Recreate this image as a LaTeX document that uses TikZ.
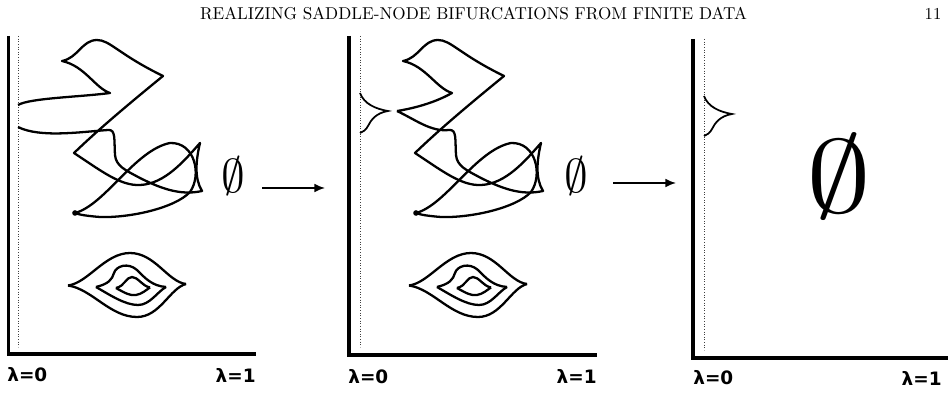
\documentclass[tikz,border=0pt]{standalone}
\usepackage{fontspec}
\newfontfamily\lamfont{DejaVu Sans}
\usetikzlibrary{arrows.meta}
\newcommand\sndmid{.. controls (95,88) and (85,66) .. (62,61) .. controls (78,58) and (82,40) .. (97,40) .. controls (110,40) and (118,54) .. (163,76) .. controls (130,103) and (100,128) .. (74,153) .. controls (100,170) and (120,186) .. (140,185) .. controls (165,184) and (185,160) .. (200,143) .. controls (196,160) and (194,178) .. (202,191) .. controls (180,196) and (160,188) .. (140,178) .. controls (125,170) and (116,166) .. (115,155) .. controls (114,140) and (116,129) .. (108,130)}
\tikzset{
  axisline/.style={line width=2pt},
  dotline/.style={line width=0.5pt, densely dotted, black!75},
  crv/.style={line width=1.3pt, line join=round},
  lamlabel/.style={font=\lamfont\bfseries\fontsize{10.5}{12}\selectfont, inner sep=0pt},
  arr/.style={line width=1pt, -{Latex[length=6pt,width=5pt]}},
  eyeset/.pic={
    \draw[crv] (68,285.5) .. controls (88,283) and (105,253) .. (130,253) .. controls (155,253) and (168,282) .. (186,284);
    \draw[crv] (68,285.5) .. controls (92,289) and (110,317) .. (137,317) .. controls (160,317) and (170,288) .. (186,284);
    \draw[crv] (96,287) .. controls (108,284) and (112,280) .. (114,273) .. controls (116,266) and (128,262) .. (137,270) .. controls (145,278) and (152,286) .. (166,287);
    \draw[crv] (96,287) .. controls (110,295) and (125,305) .. (138,305) .. controls (150,305) and (157,292) .. (166,287);
    \draw[crv] (116,288) .. controls (125,286) and (126,277) .. (132,277) .. controls (138,277) and (142,286) .. (150,287.5);
    \draw[crv] (116,288) .. controls (125,293) and (130,296) .. (136,295) .. controls (142,294) and (146,290) .. (150,287.5);
  },
  lensloop/.pic={
    \draw[crv] (75,213) .. controls (105,205) and (135,150) .. (170,143) .. controls (195,142) and (202,175) .. (190,192) .. controls (175,208) and (130,218) .. (100,217) .. controls (88,216) and (80,215) .. (75,213);
    \fill (75,213) circle[radius=1.6pt];
  },
  smallcusp/.pic={
    \draw[line width=1pt] (19,93) .. controls (23,104) and (35,109) .. (47,111) .. controls (35,113) and (30,120) .. (27,126) .. controls (25,130) and (22,132) .. (19,133);
  }
}
\begin{document}
\begin{tikzpicture}[x=0.02cm, y=-0.02cm]
\fill[white] (0,0) rectangle (948,412);
\useasboundingbox (0,0) rectangle (948,412);

% header
\node[inner sep=0pt] (hdr) at (473.5,13.5) {\resizebox{10.94cm}{!}{REALIZING SADDLE-NODE BIFURCATIONS FROM FINITE DATA}};
\node[inner sep=0pt, font=\fontsize{9.5}{11}\selectfont] (pg) at (933,13.5) {11};

% panel 1
\begin{scope}
  \draw[axisline] (8.5,36) -- (8.5,354) -- (256,354);
  \draw[dotline] (18,36) -- (18,347);
  \node[lamlabel, anchor=west] (p1l0) at (7,375) {λ=0};
  \node[lamlabel, anchor=east] (p1l1) at (256,375) {λ=1};
  \draw[crv] (18,105) .. controls (30,98) and (80,97) .. (110,93) \sndmid .. controls (80,132) and (40,138) .. (18,127);
  \pic {lensloop};
  \pic {eyeset};
\end{scope}
\node[inner sep=0pt] (e1) at (233.5,176) {\scalebox{2.7}{$\emptyset$}};

% panel 2
\begin{scope}[shift={(341,0)}]
  \draw[axisline] (8,36) -- (8,355) -- (256,355);
  \draw[dotline] (19,36) -- (19,347);
  \node[lamlabel, anchor=west] (p2l0) at (7,377) {λ=0};
  \node[lamlabel, anchor=east] (p2l1) at (256,376) {λ=1};
  \pic {smallcusp};
  \draw[crv] (56,111) .. controls (75,108) and (95,102) .. (111,93) \sndmid .. controls (90,132) and (75,120) .. (56,111);
  \pic {lensloop};
  \pic {eyeset};
\end{scope}
\node[inner sep=0pt] (e2) at (576,176) {\scalebox{2.7}{$\emptyset$}};

% panel 3
\begin{scope}[shift={(685,3)}]
  \draw[axisline] (8,36) -- (8,355) -- (263,355);
  \draw[dotline] (19,36) -- (19,347);
  \node[lamlabel, anchor=west] (p3l0) at (8,375) {λ=0};
  \node[lamlabel, anchor=east] (p3l1) at (257,375) {λ=1};
  \pic {smallcusp};
\end{scope}
\node[inner sep=0pt] (e3) at (839.5,177) {\scalebox{7.4}[5.9]{$\emptyset$}};

% arrows
\coordinate (a1s) at (262,188);
\coordinate (a1e) at (325,188);
\coordinate (a2s) at (613,183);
\coordinate (a2e) at (676,183);
\draw[arr] (a1s) -- (a1e);
\draw[arr] (a2s) -- (a2e);
\end{tikzpicture}
\end{document}
